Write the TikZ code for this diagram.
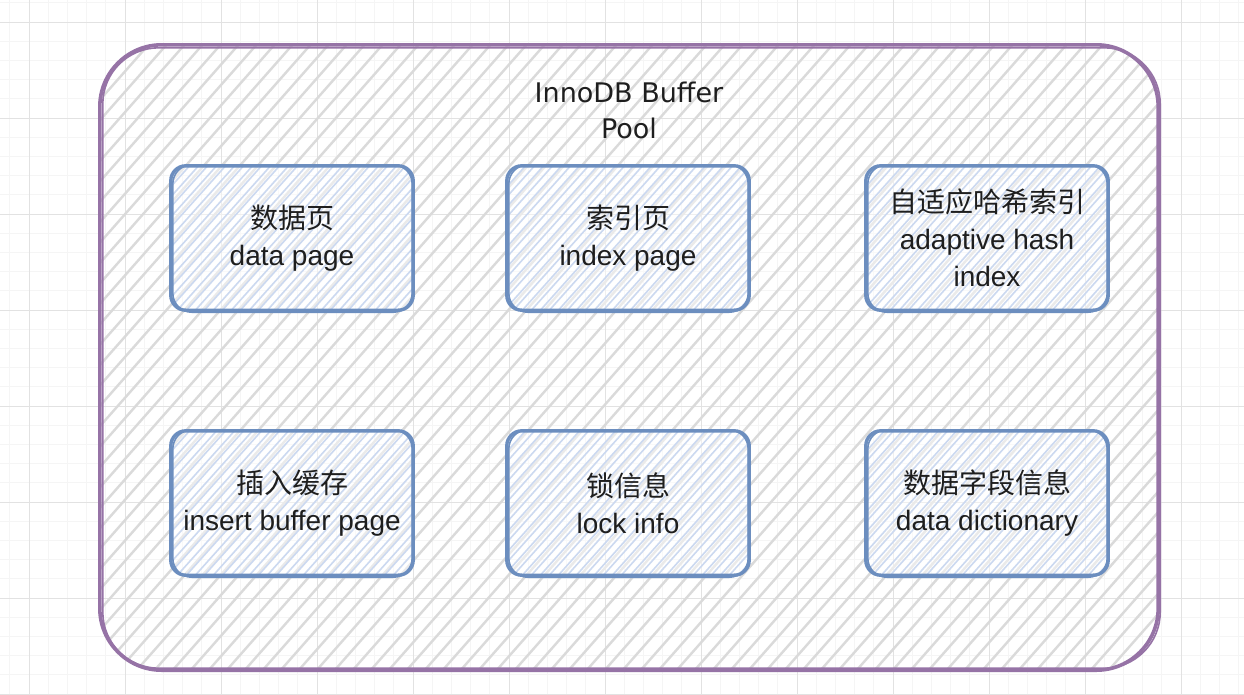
\documentclass[tikz,border=0pt]{standalone}
\usepackage{fontspec}
\setmainfont{Liberation Sans}
\newfontfamily\cjk{Noto Sans CJK SC}
\newfontfamily\titlefont{DejaVu Sans}
\usetikzlibrary{calc}
\definecolor{purp}{HTML}{9673A6}
\definecolor{bluestroke}{HTML}{6C8EBF}
\definecolor{hatchgray}{HTML}{DADADA}
\definecolor{hatchblue}{HTML}{CCD9F0}
\definecolor{gridminor}{HTML}{F5F5F5}
\definecolor{gridmajor}{HTML}{E2E2E2}
\definecolor{txt}{HTML}{1E1E1E}
\pgfdeclarelayer{bg}
\pgfsetlayers{bg,main}
\begin{document}
\begin{tikzpicture}[x=1pt,y=-1pt,
  boxnode/.style={minimum width=242pt, minimum height=144pt, inner sep=0pt, align=center, text=txt, font=\fontsize{28}{37}\selectfont},
  poolnode/.style={minimum width=1058pt, minimum height=625pt, inner sep=0pt},
  titlenode/.style={align=center, text=txt, font=\titlefont\fontsize{27}{36}\selectfont},
  bluesk/.style={draw=bluestroke, line width=3.4pt, rounded corners=15pt},
  bluesk2/.style={draw=bluestroke, line width=1.6pt, rounded corners=19pt},
  purpsk/.style={draw=purp, line width=3.6pt, rounded corners=62pt},
  purpsk2/.style={draw=purp, line width=1.6pt, rounded corners=56pt},
  hatchg/.style={draw=hatchgray, line width=2.4pt},
  hatchb/.style={draw=hatchblue, line width=1.6pt},
  gmin/.style={draw=gridminor, line width=0.8pt},
  gmaj/.style={draw=gridmajor, line width=1pt}]
\useasboundingbox (0,0) rectangle (1244,694);

% nodes
\node[poolnode] (pool) at (629,357.5) {};
\node[titlenode] (title) at (629,110) {InnoDB Buffer\\Pool};
\node[boxnode] (b1) at (292,238) {{\cjk 数据页}\\data page};
\node[boxnode] (b2) at (628,238) {{\cjk 索引页}\\index page};
\node[boxnode] (b3) at (987,238) {{\cjk 自适应哈希索引}\\adaptive hash\\index};
\node[boxnode] (b4) at (292,503) {{\cjk 插入缓存}\\insert buffer page};
\node[boxnode] (b5) at (628,503) {{\cjk 锁信息}\\lock info};
\node[boxnode] (b6) at (987,503) {{\cjk 数据字段信息}\\data dictionary};

\begin{pgfonlayer}{bg}
  \fill[white] (0,0) rectangle (1244,694);
  \foreach \k in {0,...,65} \draw[gmin] (9.8+\k*19.2,0) -- (9.8+\k*19.2,694);
  \foreach \k in {0,...,36} \draw[gmin] (0,2.8+\k*19.2) -- (1244,2.8+\k*19.2);
  \foreach \k in {0,...,12} \draw[gmaj] (29+\k*96,0) -- (29+\k*96,694);
  \foreach \k in {0,...,7} \draw[gmaj] (0,22+\k*96) -- (1244,22+\k*96);
  % outer hatch
  \begin{scope}
    \clip[rounded corners=62pt] (pool.north west) rectangle (pool.south east);
    \foreach \i in {-700,-682,...,1250} \draw[hatchg] ($(\i,680)$) -- ++(600,-680);
  \end{scope}
  % inner hatch
  \foreach \b in {b1,b2,b3,b4,b5,b6} {
    \begin{scope}
      \clip[rounded corners=15pt] (\b.north west) rectangle (\b.south east);
      \fill[white, opacity=0.45] (\b.north west) rectangle (\b.south east);
      \foreach \i in {-150,-141,...,260} \draw[hatchb] ($(\b.south west)+(\i,4)$) -- ++(136,-152);
    \end{scope}
  }
\end{pgfonlayer}

% sketchy outlines
\draw[purpsk] (pool.north west) rectangle (pool.south east);
\draw[purpsk2] ($(pool.north west)+(3,3)$) rectangle ($(pool.south east)+(2,-2)$);
\foreach \b in {b1,b2,b3,b4,b5,b6} {
  \draw[bluesk] (\b.north west) rectangle (\b.south east);
  \draw[bluesk2] ($(\b.north west)+(2,-1)$) rectangle ($(\b.south east)+(-1,2)$);
}
\end{tikzpicture}
\end{document}
